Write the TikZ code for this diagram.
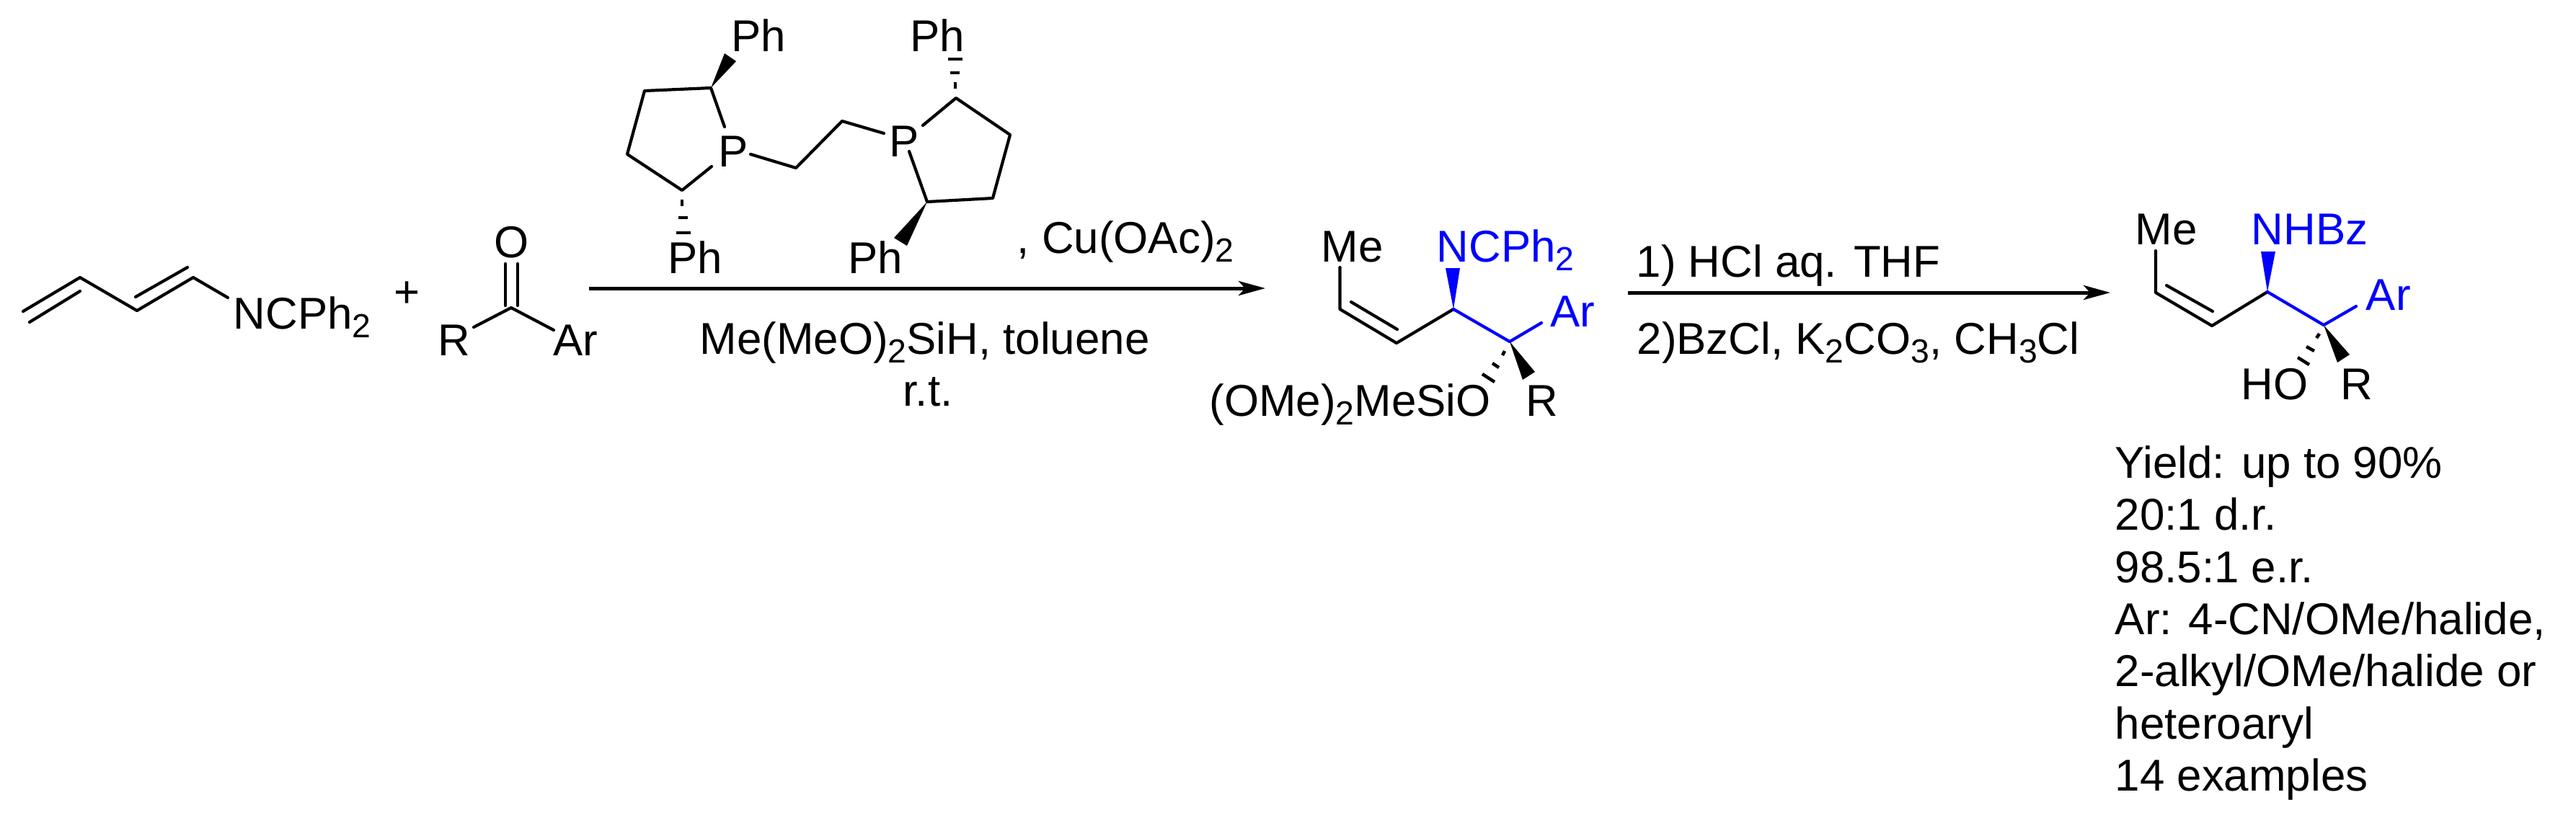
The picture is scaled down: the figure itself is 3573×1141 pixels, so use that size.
\documentclass[tikz,border=0pt]{standalone}
\usepackage{fontspec}
\setmainfont{Liberation Sans}
\usetikzlibrary{arrows.meta}
\tikzset{>={Stealth[length=3.7mm,width=2mm,inset=0.9mm]}}
\definecolor{bondblue}{RGB}{0,0,255}
\newcommand{\subs}[1]{\raisebox{-1.2mm}{\fontsize{13.2}{13.2}\selectfont #1}}
\begin{document}
\begin{tikzpicture}[x=0.1mm,y=-0.1mm,
    bond/.style = {line width=0.42mm,line cap=round,line join=round},
    bluebond/.style = {bond,draw=bondblue},
    arrowline/.style = {line width=0.5mm,->},
    hash/.style = {line width=0.45mm},
    main/.style = {anchor=base west,inner sep=0pt,font=\fontsize{17.6}{20}\selectfont},
    bluemain/.style = {main,text=bondblue}]
\useasboundingbox (0,0) rectangle (3573,1141);
% diene
    \coordinate (d1) at (32,432); \coordinate (d2) at (111,385);
    \coordinate (d3) at (190,431); \coordinate (d4) at (268,385);
    \coordinate (d5) at (316,413);
    \coordinate (d6) at (41,447); \coordinate (d7) at (111,404);
    \coordinate (d8) at (188,412); \coordinate (d9) at (260,371);
    \node[main] (n1) at (323,456) {NCPh\subs{2}};
    \draw[bond] (d1) -- (d2) -- (d3) -- (d4) -- (d5);
    \draw[bond] (d6) -- (d7);
    \draw[bond] (d8) -- (d9);
    \node[main,anchor=center] (plus) at (565,409) {+};
% ketone
    \coordinate (k1) at (709,427); \coordinate (k2) at (657,454);
    \coordinate (k3) at (768,458);
    \coordinate (k4) at (701,366); \coordinate (k5) at (701,424);
    \coordinate (k6) at (718,366); \coordinate (k7) at (718,424);
    \node[main] (o1) at (685,357) {O};
    \node[main] (r1) at (607,493) {R};
    \node[main] (ar1) at (767,493) {Ar};
    \draw[bond] (k2) -- (k1) -- (k3);
    \draw[bond] (k4) -- (k5);
    \draw[bond] (k6) -- (k7);
% ligand, left ring
    \coordinate (p1) at (986,122); \coordinate (p2) at (894,126);
    \coordinate (p3) at (870,214); \coordinate (p4) at (946,264);
    \coordinate (p5) at (1005,176); \coordinate (p6) at (987,231);
    \node[main] (pl) at (996,231) {P};
    \draw[bond] (p5) -- (p1) -- (p2) -- (p3) -- (p4) -- (p6);
    \coordinate (w1) at (1005,74); \coordinate (w2) at (1021,85);
    \fill (p1) -- (w1) -- (w2) -- cycle;
    \coordinate (h1) at (946,277); \coordinate (h2) at (946,286);
    \coordinate (h3) at (941,302); \coordinate (h4) at (954,302);
    \coordinate (h5) at (938,323); \coordinate (h6) at (958,323);
    \draw[hash] (h1) -- (h2);
    \draw[hash] (h3) -- (h4);
    \draw[hash] (h5) -- (h6);
    \node[main] (ph1) at (1014,71) {Ph};
    \node[main] (ph2) at (926,379) {Ph};
% bridge
    \coordinate (b1) at (1041,214); \coordinate (b2) at (1104,233);
    \coordinate (b3) at (1168,168); \coordinate (b4) at (1226,185);
    \draw[bond] (b1) -- (b2) -- (b3) -- (b4);
% ligand, right ring
    \coordinate (q1) at (1326,136); \coordinate (q2) at (1401,187);
    \coordinate (q3) at (1377,275); \coordinate (q4) at (1286,280);
    \coordinate (q5) at (1280,174); \coordinate (q6) at (1261,210);
    \node[main] (pr) at (1233,217) {P};
    \draw[bond] (q5) -- (q1) -- (q2) -- (q3) -- (q4) -- (q6);
    \coordinate (w3) at (1240,330); \coordinate (w4) at (1258,341);
    \fill (q4) -- (w3) -- (w4) -- cycle;
    \coordinate (h7) at (1325,114); \coordinate (h8) at (1325,123);
    \coordinate (h9) at (1318,101); \coordinate (h10) at (1331,101);
    \coordinate (h11) at (1315,82); \coordinate (h12) at (1335,82);
    \draw[hash] (h7) -- (h8);
    \draw[hash] (h9) -- (h10);
    \draw[hash] (h11) -- (h12);
    \node[main] (ph3) at (1262,71) {Ph};
    \node[main] (ph4) at (1176,379) {Ph};
% first step
    \coordinate (a1) at (817,400); \coordinate (a2) at (1755,400);
    \draw[arrowline] (a1) -- (a2);
    \node[main] (cu) at (1410,351) {, Cu(OAc)\subs{2}};
    \node[main] (si) at (970,491) {Me(MeO)\subs{2}SiH, toluene};
    \node[main] (rt) at (1252,563) {r.t.};
% silyl ether
    \coordinate (s1) at (1858.5,371); \coordinate (s2) at (1858.5,429);
    \coordinate (s3) at (1937,476); \coordinate (s4) at (2016,429);
    \coordinate (s5) at (2094,474); \coordinate (s6) at (2138,448);
    \coordinate (s7) at (1874,419); \coordinate (s8) at (1938,457);
    \node[main] (me1) at (1832,363) {Me};
    \node[bluemain] (n2) at (1992,363) {NCPh\subs{2}};
    \node[bluemain] (ar2) at (2150,453) {Ar};
    \node[main] (si2) at (1677,577) {(OMe)\subs{2}MeSiO};
    \node[main] (r2) at (2116,577) {R};
    \draw[bond] (s1) -- (s2) -- (s3) -- (s4);
    \draw[bond] (s7) -- (s8);
    \draw[bluebond] (s4) -- (s5) -- (s6);
    \coordinate (w5) at (2005,372); \coordinate (w6) at (2025,372);
    \fill[bondblue] (s4) -- (w5) -- (w6) -- cycle;
    \coordinate (w7) at (2112,527); \coordinate (w8) at (2129,516);
    \fill (s5) -- (w7) -- (w8) -- cycle;
    \coordinate (h13) at (2087,487); \coordinate (h14) at (2084,493);
    \coordinate (h15) at (2070,504); \coordinate (h16) at (2079,510);
    \coordinate (h17) at (2056,519); \coordinate (h18) at (2073,530);
    \draw[hash] (h13) -- (h14);
    \draw[hash] (h15) -- (h16);
    \draw[hash] (h17) -- (h18);
% second step
    \coordinate (a3) at (2258,406); \coordinate (a4) at (2927,406);
    \draw[arrowline] (a3) -- (a4);
    \node[main] (hcl) at (2269,384) {1) HCl aq. THF};
    \node[main] (bz) at (2270,491) {2)BzCl, K\subs{2}CO\subs{3}, CH\subs{3}Cl};
% product
    \coordinate (t1) at (2990,348); \coordinate (t2) at (2990,406);
    \coordinate (t3) at (3068,452); \coordinate (t4) at (3145,405);
    \coordinate (t5) at (3223,451); \coordinate (t6) at (3268,425);
    \coordinate (t7) at (3005,396); \coordinate (t8) at (3069,432);
    \node[main] (me2) at (2961,339) {Me};
    \node[bluemain] (n3) at (3122,339) {NHBz};
    \node[bluemain] (ar3) at (3281,430) {Ar};
    \node[main] (ho) at (3108,554) {HO};
    \node[main] (r3) at (3246,554) {R};
    \draw[bond] (t1) -- (t2) -- (t3) -- (t4);
    \draw[bond] (t7) -- (t8);
    \draw[bluebond] (t4) -- (t5) -- (t6);
    \coordinate (w9) at (3136,349); \coordinate (w10) at (3156,349);
    \fill[bondblue] (t4) -- (w9) -- (w10) -- cycle;
    \coordinate (w11) at (3242,503); \coordinate (w12) at (3259,492);
    \fill (t5) -- (w11) -- (w12) -- cycle;
    \coordinate (h19) at (3217,463); \coordinate (h20) at (3213,469);
    \coordinate (h21) at (3199,481); \coordinate (h22) at (3210,487);
    \coordinate (h23) at (3187,496); \coordinate (h24) at (3203,506);
    \draw[hash] (h19) -- (h20);
    \draw[hash] (h21) -- (h22);
    \draw[hash] (h23) -- (h24);
% results
    \node[main,anchor=north west,align=left,font=\fontsize{17.6}{20.57}\selectfont] (res) at (2933,618) {Yield: up to 90\%\\20:1 d.r.\\98.5:1 e.r.\\Ar: 4-CN/OMe/halide,\\2-alkyl/OMe/halide or\\heteroaryl\\14 examples};
\end{tikzpicture}
\end{document}
